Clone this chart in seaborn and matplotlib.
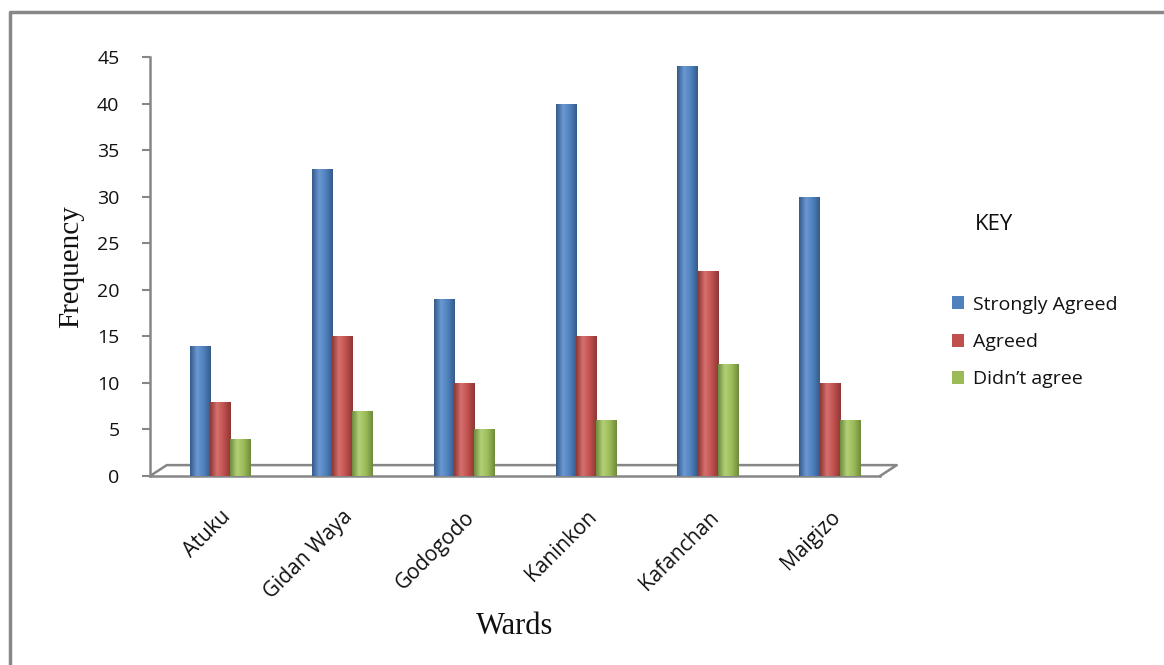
import numpy as np
import pandas as pd
import matplotlib
matplotlib.use("Agg")
import matplotlib.pyplot as plt
from matplotlib.lines import Line2D
from matplotlib.patches import Patch
from matplotlib.colors import LinearSegmentedColormap
import seaborn as sns

# datos
wards = ['Atuku', 'Gidan Waya', 'Godogodo', 'Kaninkon', 'Kafanchan', 'Maigizo']
strongly_agreed = [14, 33, 19, 40, 44, 30]
agreed = [8, 15, 10, 15, 22, 10]
didnt_agree = [4, 7, 5, 6, 12, 6]
series = ['Strongly Agreed', 'Agreed', 'Didn\u2019t agree']
colores = ['#4F81BD', '#C0504D', '#9BBB59']
oscuros = ['#345A8A', '#8C3836', '#6E8A3C']
claros = ['#6A98D2', '#D6716E', '#B2D177']
yticks = [0, 5, 10, 15, 20, 25, 30, 35, 40, 45]

df = pd.DataFrame({
    'Ward': wards * 3,
    'Response': [series[0]] * 6 + [series[1]] * 6 + [series[2]] * 6,
    'Frequency': strongly_agreed + agreed + didnt_agree,
})

sns.set_style('white')
plt.rcParams['font.family'] = ['Open Sans', 'DejaVu Sans']
texto = '#111111'

fig = plt.figure(figsize=(11.64, 6.65), dpi=100)
ax = fig.add_axes([150 / 1164, 1 - 476 / 665, 730 / 1164, 419 / 665])

sns.barplot(data=df, x='Ward', y='Frequency', hue='Response', order=wards,
            hue_order=series, palette=colores, width=0.5, saturation=1,
            legend=False, ax=ax, zorder=3)

ax.set_ylim(0, 45)
ax.set_xlim(-0.574, 5.41)

# sombreado horizontal para que las barras parezcan cilindros
grad = np.linspace(0, 1, 64).reshape(1, -1)
for i, cont in enumerate(ax.containers):
    cmap = LinearSegmentedColormap.from_list(
        'cil%d' % i, [oscuros[i], claros[i], colores[i], oscuros[i]])
    for bar in cont:
        bar.set_edgecolor('none')
        x0, y0 = bar.get_x(), bar.get_y()
        w, h = bar.get_width(), bar.get_height()
        im = ax.imshow(grad, cmap=cmap, aspect='auto', extent=(x0, x0 + w, y0, y0 + h),
                       zorder=3.5, interpolation='bicubic')
        im.set_clip_path(bar)

ax.set_ylim(0, 45)
ax.set_xlim(-0.574, 5.41)
ax.set_yticks(yticks)
ax.tick_params(axis='y', labelsize=14, length=6, width=1.5, color='#868686',
               direction='out', left=True, pad=16, labelcolor=texto)
ax.tick_params(axis='x', length=0, pad=22)
plt.setp(ax.get_xticklabels(), rotation=45, ha='right', rotation_mode='anchor',
         fontsize=15, color=texto)

for s in ['top', 'right']:
    ax.spines[s].set_visible(False)
ax.spines['left'].set_color('#868686')
ax.spines['left'].set_linewidth(1.8)
ax.spines['bottom'].set_color('#868686')
ax.spines['bottom'].set_linewidth(1.8)

# piso en pseudo-3D
dx, dy = 0.023, 0.026
piso = dict(color='#868686', lw=1.8, transform=ax.transAxes, clip_on=False, zorder=1)
ax.add_line(Line2D([0, dx, 1 + dx, 1], [0, dy, dy, 0], **piso))

ax.set_xlabel('Wards', family='Liberation Serif', fontsize=22, color=texto)
ax.set_ylabel('Frequency', family='Liberation Serif', fontsize=21, color=texto)
ax.xaxis.set_label_coords(0.5, -0.325)
ax.yaxis.set_label_coords(-0.09, 0.5)

handles = [Patch(facecolor=c, edgecolor='none') for c in colores]
fig.legend(handles, series, loc='center left', bbox_to_anchor=(0.811, 1 - 342 / 665),
           frameon=False, fontsize=14, handlelength=0.65, handleheight=0.65,
           handletextpad=0.45, labelspacing=1.0, borderaxespad=0, labelcolor=texto)
fig.text(975 / 1164, 1 - 225 / 665, 'KEY', fontsize=16, va='center', color=texto)

# marco exterior (solo izquierda y arriba)
fig.add_artist(Line2D([10 / 1164, 10 / 1164, 1], [0, 1 - 12 / 665, 1 - 12 / 665],
                      color='#888888', lw=2.5, transform=fig.transFigure))

fig.savefig('out.png', dpi=100)
